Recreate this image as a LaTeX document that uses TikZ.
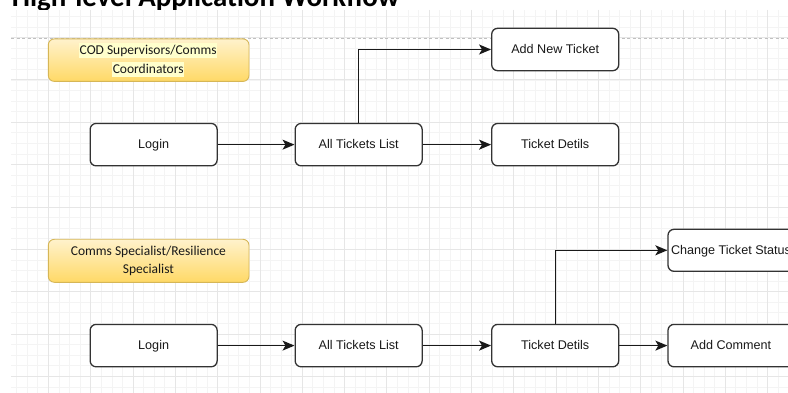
\documentclass[tikz,border=0pt]{standalone}
\usepackage{fontspec}
\setmainfont{Liberation Sans}
\newfontfamily\carlito{Carlito}
\usetikzlibrary{arrows.meta}
\definecolor{ylwtop}{HTML}{FFF2CC}
\definecolor{ylwbot}{HTML}{FFD966}
\definecolor{ylwdraw}{HTML}{D6B656}
\definecolor{hilite}{HTML}{FFFFCC}
\definecolor{gridminor}{HTML}{F4F4F4}
\definecolor{gridmajor}{HTML}{E6E6E6}
\definecolor{dashgray}{HTML}{C0C0C0}
\tikzset{
  procbox/.style={draw=black!80, line width=1.3pt, rounded corners=6pt, fill=white,
    minimum width=127pt, minimum height=42.4pt, inner sep=0pt,
    text height=9.5pt, text depth=2pt,
    font=\fontsize{12.6}{15}\selectfont, text=black!90},
  rolebox/.style={draw=ylwdraw, line width=0.9pt, rounded corners=6pt,
    top color=ylwtop, bottom color=ylwbot,
    minimum width=200.7pt, minimum height=42.5pt, inner sep=0pt},
  roletext/.style={inner xsep=0.5pt, inner ysep=0.5pt, text height=10.3pt, text depth=3.7pt,
    font=\carlito\fontsize{13.5}{19}\selectfont, text=black!90},
  hl/.style={roletext, fill=hilite},
  flow/.style={line width=1.3pt, draw=black!90, -{Stealth[length=12pt,width=10pt,inset=3pt]}}
}
\begin{document}
\begin{tikzpicture}[x=1pt,y=-1pt]
\useasboundingbox (0,0) rectangle (788,393);
\clip (0,0) rectangle (788,393);
% title (partly hidden)
\node[anchor=base west, inner sep=0pt, font=\carlito\bfseries\fontsize{28.9}{32}\selectfont] (title) at (11.7,6.8) {High-level Application Workflow};
% canvas
\fill[white] (11,10) rectangle (788,393);
\begin{scope}
\clip (11,10) rectangle (788,393);
\foreach \i in {-4,...,76} {
  \draw[gridminor, line width=0.5pt] ({48.3+10.575*\i},10) -- ({48.3+10.575*\i},393);
}
\foreach \j in {-3,...,36} {
  \draw[gridminor, line width=0.5pt] (11,{37.4+10.59*\j}) -- (788,{37.4+10.59*\j});
}
\foreach \i in {-1,...,18} {
  \draw[gridmajor, line width=0.6pt] ({48.3+42.3*\i},10) -- ({48.3+42.3*\i},393);
}
\foreach \j in {-1,...,9} {
  \draw[gridmajor, line width=0.6pt] (11,{37.4+42.36*\j}) -- (788,{37.4+42.36*\j});
}
\end{scope}
\coordinate (dashL) at (11,38.3);
\coordinate (dashR) at (788,38.3);
\draw[dashgray, line width=1pt, dash pattern=on 3pt off 2.5pt] (dashL) -- (dashR);
% role boxes
\node[rolebox] (role1) at (148.65,60.15) {};
\node[hl] (role1a) at (148.2,50.8) {COD Supervisors/Comms};
\node[hl] (role1b) at (148.2,70) {Coordinators};
\node[rolebox, minimum height=43pt] (role2) at (148.65,260.8) {};
\node[roletext] (role2a) at (148.4,252.2) {Comms Specialist/Resilience};
\node[roletext] (role2b) at (148.4,270.2) {Specialist};
% top row
\node[procbox] (login1) at (153.65,144.65) {Login};
\node[procbox] (all1) at (358.65,144.65) {All Tickets List};
\node[procbox] (det1) at (555.2,144.65) {Ticket Detils};
\node[procbox] (add1) at (555.2,49.5) {Add New Ticket};
% bottom row
\node[procbox] (login2) at (153.65,345.6) {Login};
\node[procbox] (all2) at (358.65,345.6) {All Tickets List};
\node[procbox] (det2) at (555.2,345.6) {Ticket Detils};
\node[procbox, minimum width=126pt] (comm) at (731,345.6) {Add Comment};
\node[procbox, minimum width=126pt, minimum height=42pt] (status) at (731,250.3) {Change Ticket Status};
% connectors
\draw[flow] (login1) -- (all1);
\draw[flow] (all1) -- (det1);
\draw[flow] (all1.north) |- (add1.west);
\draw[flow] (login2) -- (all2);
\draw[flow] (all2) -- (det2);
\draw[flow] (det2) -- (comm);
\draw[flow] (det2.north) |- (status.west);
\end{tikzpicture}
\end{document}
